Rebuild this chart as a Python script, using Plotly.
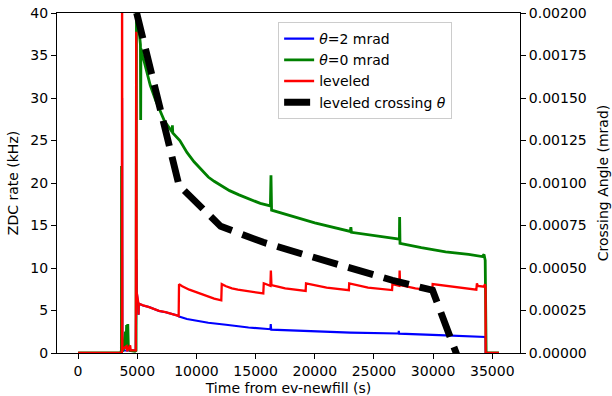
import plotly.graph_objects as go

# ZDC rate traces (time in seconds from ev-newfill, rate in kHz)
t_theta2 = [0, 3690, 3720, 3745, 4880, 4930, 4960, 5050, 5090, 5110, 5130, 5500, 6000,
            6840, 7400, 8400, 8530, 9200, 10000, 11000, 12500, 14400, 16250, 16280, 16320,
            18670, 20355, 23000, 27080, 27100, 27130, 30500, 34300, 34430, 34440, 35560]
r_theta2 = [0, 0, 30, 0.3, 0.3, 11.0, 7.2, 6.0, 5.9, 4.5, 5.8, 5.6, 5.4,
            4.95, 4.8, 4.4, 4.3, 4.0, 3.78, 3.55, 3.32, 3.0, 2.8, 3.4, 2.75,
            2.6, 2.5, 2.4, 2.3, 2.6, 2.28, 2.1, 1.88, 1.88, 0, 0]

t_theta0 = [0, 3600, 3660, 3675, 3690, 3760, 3850, 4000, 4050, 4100, 4150, 4200, 4250,
            4400, 4800, 4900, 4935, 5000, 5150, 5270, 5290, 5310, 5400, 5710, 6100, 6560,
            7000, 7300, 7950, 7970, 8000, 8600, 9200, 9800, 10300, 11000, 11500, 12100,
            12800, 13600, 14600, 15400, 16250, 16300, 16350, 18000, 20000, 23000, 23050,
            23100, 25400, 27150, 27170, 27200, 29000, 31055, 33000, 34150, 34300, 34400,
            34480, 35560]
r_theta0 = [0, 0, 0.3, 22.0, 0.4, 0.2, 0.5, 2.5, 0.5, 3.3, 1.0, 3.4, 0.8,
            0.3, 0.2, 0.3, 41.0, 39.0, 38.0, 36.3, 27.4, 35.8, 35.3, 33.6, 31.5, 29.7,
            28.2, 27.3, 26.0, 26.8, 25.9, 25.0, 23.6, 22.5, 21.7, 20.7, 20.2, 19.7,
            19.1, 18.6, 18.0, 17.6, 17.3, 20.9, 16.8, 16.1, 15.3, 14.3, 14.8,
            14.2, 13.7, 13.4, 16.0, 12.9, 12.4, 11.9, 11.6, 11.35, 11.6, 10.9,
            0, 0]

t_level = [0, 3700, 3720, 3745, 3800, 4100, 4150, 4400, 4450, 4880, 4915, 4950, 5050,
           5090, 5110, 5130, 5500, 6000, 6840, 7400, 8400, 8500, 8530, 8800, 9400, 10000,
           10500, 11000, 11500, 12100, 12140, 12500, 13000, 13500, 14600, 15650, 15690,
           16250, 16290, 16340, 17500, 19230, 19260, 21000, 22880, 22910, 24500, 26530,
           26560, 27140, 27170, 27210, 28500, 29930, 29960, 31800, 33650, 33700, 33780,
           34300, 34380, 34430, 34440, 35560]
r_level = [0, 0, 48.0, 0.3, 0.5, 0.8, 0.2, 0.9, 0.3, 0.3, 37.8, 7.2, 6.0,
           5.9, 4.5, 5.8, 5.6, 5.4, 4.95, 4.8, 4.4, 4.35, 8.1, 7.85, 7.45, 7.15,
           6.85, 6.6, 6.4, 6.2, 8.1, 7.85, 7.6, 7.45, 7.2, 7.0, 8.2,
           7.9, 9.7, 8.0, 7.6, 7.3, 8.2, 7.7, 7.4, 8.2, 7.7, 7.4,
           8.1, 7.9, 9.7, 8.0, 7.6, 7.35, 8.1, 7.8, 7.45, 8.2, 7.9,
           7.8, 8.1, 7.7, 0, 0]

# Leveled crossing angle (right axis)
t_angle = [4950, 8530, 12050, 15650, 19250, 22900, 26550, 29950, 33700]
angle = [0.00200, 0.000986, 0.000745, 0.000651, 0.000576, 0.000501, 0.000428,
         0.000369, -0.000324]

x_ticks = [0, 5000, 10000, 15000, 20000, 25000, 30000, 35000]
y_ticks = [0, 5, 10, 15, 20, 25, 30, 35, 40]
y2_ticks = [0, 0.00025, 0.0005, 0.00075, 0.001, 0.00125, 0.0015, 0.00175, 0.002]

FONT = "DejaVu Sans"

fig = go.Figure()
fig.add_trace(go.Scatter(x=t_theta2, y=r_theta2, mode="lines", name="<i>θ</i>=2 mrad",
                         line=dict(color="#0000ff", width=2.1)))
fig.add_trace(go.Scatter(x=t_theta0, y=r_theta0, mode="lines", name="<i>θ</i>=0 mrad",
                         line=dict(color="#008000", width=2.8)))
fig.add_trace(go.Scatter(x=t_level, y=r_level, mode="lines", name="leveled",
                         line=dict(color="#ff0000", width=2.3)))
fig.add_trace(go.Scatter(x=t_angle, y=angle, mode="lines", name="leveled crossing <i>θ</i>",
                         yaxis="y2",
                         line=dict(color="black", width=6.9, dash="26px,11px")))

axis_common = dict(showgrid=False, zeroline=False, showline=True, linecolor="black",
                   linewidth=1.1, ticks="outside", ticklen=5, tickwidth=1.1,
                   tickcolor="black", automargin=False,
                   tickfont=dict(family=FONT, size=14, color="black"))

fig.update_layout(
    width=612, height=396, autosize=False,
    margin=dict(l=57, r=92, t=13, b=43),
    plot_bgcolor="white", paper_bgcolor="white",
    font=dict(family=FONT, size=14, color="black"),
    xaxis=dict(range=[-1780, 37340], tickvals=x_ticks, tickformat="d", mirror=True,
               title=dict(text="Time from ev-newfill (s)", font=dict(family=FONT, size=14), standoff=6),
               **axis_common),
    yaxis=dict(range=[0, 40], tickvals=y_ticks,
               title=dict(text="ZDC rate (kHz)", font=dict(family=FONT, size=14), standoff=8),
               **axis_common),
    yaxis2=dict(range=[0, 0.002], tickvals=y2_ticks, tickformat=".5f", overlaying="y",
                side="right",
                title=dict(text="Crossing Angle (mrad)", font=dict(family=FONT, size=14), standoff=12),
                **axis_common),
    legend=dict(x=0.4776, y=0.9735, xanchor="left", yanchor="top",
                bgcolor="rgba(255,255,255,0.8)", bordercolor="#cccccc", borderwidth=1,
                font=dict(family=FONT, size=14, color="black")),
    showlegend=True,
)

fig.write_html("out.html")
